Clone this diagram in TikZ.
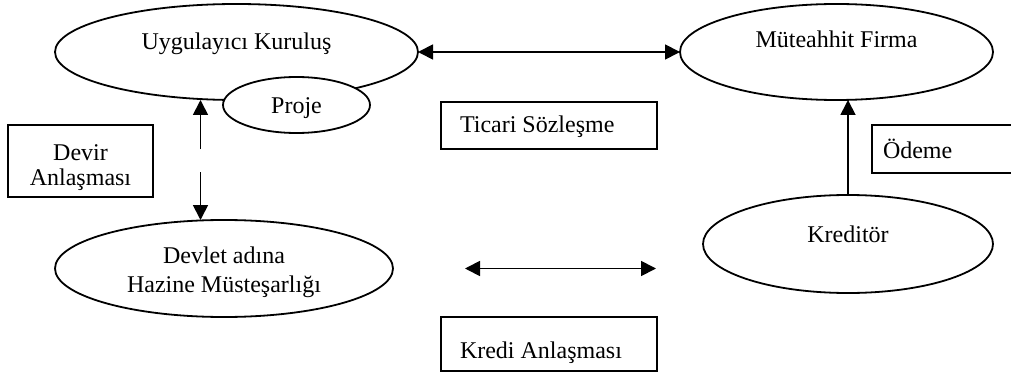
\documentclass[tikz,border=0pt]{standalone}
\usepackage{fontspec}
\setmainfont{Liberation Serif}
\usetikzlibrary{shapes.geometric,arrows.meta}
\newcommand\mylift[2]{\raisebox{#1}[0pt][0pt]{#2}}
\begin{document}
\begin{tikzpicture}[x=0.5pt,y=-0.5pt,
  font=\fontsize{12}{14.5}\selectfont,
  ell/.style={ellipse, draw, line width=0.9pt, inner sep=0pt, outer sep=0pt},
  box/.style={rectangle, draw, line width=0.9pt, inner sep=0pt, outer sep=0pt},
  tip/.tip={Triangle[length=7.5pt,width=7.5pt]},
  oneway/.style={line width=0.9pt, -tip},
  twoway/.style={line width=0.9pt, tip-tip}]
\useasboundingbox (0,0) rectangle (1011,374);
\clip (0,0) rectangle (1011,374);
% ellipses
\node[ell, minimum width=181.5pt, minimum height=48pt] (uk) at (236.5,52) {\mylift{1pt}{Uygulayıcı Kuruluş}};
\node[ell, fill=white, minimum width=73.5pt, minimum height=28pt] (pj) at (296.5,105) {\mylift{-4pt}{Proje}};
\node[ell, minimum width=156.5pt, minimum height=48pt] (mf) at (836.5,52) {\mylift{2pt}{Müteahhit Firma}};
\node[ell, minimum width=169pt, minimum height=48.5pt] (dv) at (224,268.5) {\mylift{2.75pt}{\begin{tabular}[t]{@{}c@{}}Devlet adına\\Hazine Müsteşarlığı\end{tabular}}};
\node[ell, minimum width=145pt, minimum height=49pt] (kr) at (848,244) {\mylift{1pt}{Kreditör}};
% boxes
\node[box, minimum width=72.5pt, minimum height=36pt] (da) at (80.5,161) {\mylift{0.5pt}{\fontsize{12}{12.85}\selectfont\begin{tabular}[t]{@{}c@{}}Devir\\Anlaşması\end{tabular}}};
\node[box, minimum width=108pt, minimum height=23.5pt] (ts) at (549,125.5) {\mylift{-3.75pt}{\makebox[89pt][l]{Ticari Sözleşme}}};
\node[box, minimum width=108pt, minimum height=27pt] (ka) at (549,344) {\mylift{-7pt}{\makebox[89pt][l]{Kredi Anlaşması}}};
\node[box, minimum width=84pt, minimum height=24pt] (od) at (956,149) {\mylift{-4.5pt}{\makebox[73pt][l]{Ödeme}}};
% connectors
\coordinate (lg1) at (200.5,149);
\coordinate (lg2) at (200.5,172);
\draw[oneway] (lg1) -- (lg1 |- uk.south);
\draw[oneway] (lg2) -- (lg2 |- dv.north);
\draw[twoway] (uk.east) -- (mf.west);
\draw[oneway] (kr.north) -- (kr.north |- mf.south);
\coordinate (kl) at (465,268.5);
\coordinate (kr2) at (656,268.5);
\draw[twoway] (kl) -- (kr2);
\end{tikzpicture}
\end{document}
